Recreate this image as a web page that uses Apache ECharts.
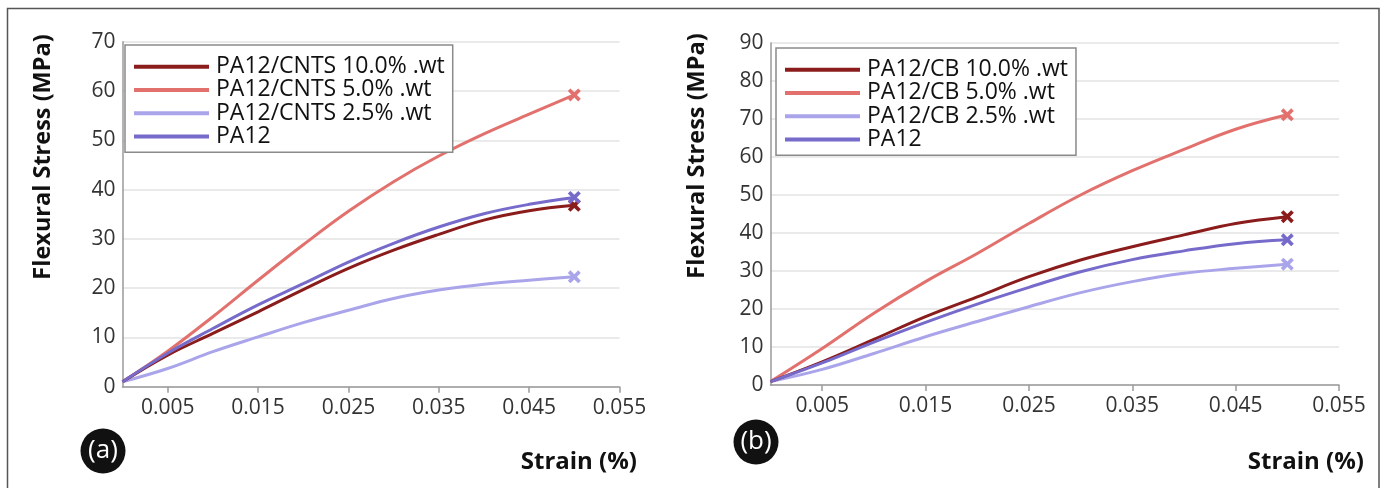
<!DOCTYPE html>
<html>
<head>
<meta charset="utf-8">
<script src="https://cdn.jsdelivr.net/npm/echarts@6/dist/echarts.min.js"></script>
<style>
  html, body { margin: 0; padding: 0; background: #ffffff; }
  #chart { width: 1385px; height: 488px; }
</style>
</head>
<body>
<div id="chart"></div>
<script>
// Strain values (%) shared by every curve
const strain = [0, 0.005, 0.01, 0.015, 0.02, 0.025, 0.03, 0.035, 0.04, 0.045, 0.05];

// (a) PA12 / carbon nanotubes — flexural stress (MPa)
const cnts10 = [1.0, 6.4, 10.8, 15.2, 19.7, 24.0, 27.7, 30.9, 33.8, 35.7, 36.8];
const cnts5  = [1.0, 7.2, 14.2, 21.6, 28.8, 35.6, 41.6, 46.8, 51.3, 55.3, 59.2];
const cnts25 = [1.0, 3.7, 7.1, 10.1, 13.0, 15.5, 17.9, 19.6, 20.8, 21.6, 22.3];
const pa12a  = [1.0, 6.8, 11.8, 16.6, 20.9, 25.3, 29.1, 32.4, 35.1, 37.0, 38.4];

// (b) PA12 / carbon black — flexural stress (MPa)
const cb10  = [0.9, 6.1, 12.0, 18.0, 23.2, 28.5, 32.9, 36.4, 39.5, 42.5, 44.3];
const cb5   = [0.9, 9.6, 18.9, 27.2, 34.6, 42.5, 50.0, 56.4, 62.0, 67.3, 71.1];
const cb25  = [0.9, 4.1, 8.3, 12.7, 16.7, 20.6, 24.3, 27.2, 29.4, 30.7, 31.8];
const pa12b = [0.9, 5.8, 11.3, 16.5, 21.3, 25.7, 29.8, 33.0, 35.3, 37.2, 38.2];

// Axis tick labels
const strainTicks = [0.005, 0.015, 0.025, 0.035, 0.045, 0.055];

const namesA = ['PA12/CNTS 10.0% .wt', 'PA12/CNTS 5.0% .wt', 'PA12/CNTS 2.5% .wt', 'PA12'];
const namesB = ['PA12/CB 10.0% .wt', 'PA12/CB 5.0% .wt', 'PA12/CB 2.5% .wt', 'PA12'];
const colors = ['#8b1c1c', '#e2716d', '#aaa5ea', '#766bca'];

const FONT = '"Open Sans"';
const CROSS = 'path://M0,2 L2,0 L5,3 L8,0 L10,2 L7,5 L10,8 L8,10 L5,7 L2,10 L0,8 L3,5 Z';

function points(ys) {
  return ys.map((y, i) => {
    if (i === ys.length - 1) {
      return { value: [strain[i], y], symbol: CROSS, symbolSize: 13 };
    }
    return { value: [strain[i], y], symbol: 'none' };
  });
}

function makeSeries(name, ys, color, axisIndex, z) {
  return {
    type: 'line',
    name: name,
    xAxisIndex: axisIndex,
    yAxisIndex: axisIndex,
    data: points(ys),
    smooth: 0.4,
    showSymbol: true,
    symbol: 'none',
    color: color,
    lineStyle: { width: 3, color: color },
    itemStyle: { color: color },
    emphasis: { disabled: true },
    z: z
  };
}

function xAxisCfg(gridIndex) {
  return {
    type: 'value',
    gridIndex: gridIndex,
    min: 0,
    max: 0.055,
    axisLine: { lineStyle: { color: '#9a9a9a', width: 1.5 } },
    axisTick: { show: true, customValues: strainTicks, length: 6, lineStyle: { color: '#9a9a9a', width: 1.5 } },
    axisLabel: {
      customValues: strainTicks,
      formatter: v => v.toFixed(3),
      fontFamily: FONT, fontSize: 21, color: '#333', margin: 11
    },
    splitLine: { show: false }
  };
}

function yAxisCfg(gridIndex, max) {
  return {
    type: 'value',
    gridIndex: gridIndex,
    min: 0,
    max: max,
    interval: 10,
    axisLine: { show: true, lineStyle: { color: '#9a9a9a', width: 1.5 } },
    axisTick: { show: false },
    axisLabel: { fontFamily: FONT, fontSize: 21, color: '#333', margin: 7 },
    splitLine: { show: true, lineStyle: { color: '#e3e3e3', width: 1.5 } }
  };
}

function legendCfg(names, left, top) {
  return {
    data: names,
    orient: 'vertical',
    left: left,
    top: top,
    itemWidth: 75,
    itemHeight: 4,
    itemGap: 0,
    icon: 'rect',
    padding: [10, 8, 4, 9],
    backgroundColor: '#ffffff',
    borderColor: '#8a8a8a',
    borderWidth: 1.5,
    borderRadius: 0,
    selectedMode: false,
    textStyle: { fontFamily: FONT, fontSize: 23, color: '#111', lineHeight: 23.3, padding: [0, 0, 0, 2] }
  };
}

function badge(letter, cx, cy) {
  return [
    { type: 'circle', shape: { cx: cx, cy: cy, r: 22.5 }, style: { fill: '#111' } },
    {
      type: 'text', x: cx, y: cy,
      style: { text: '(' + letter + ')', fill: '#fff', font: '26px ' + FONT, align: 'center', verticalAlign: 'middle' }
    }
  ];
}

function yTitle(cx, cy) {
  return {
    type: 'text', x: cx, y: cy, rotation: Math.PI / 2,
    style: { text: 'Flexural Stress (MPa)', fill: '#111', font: 'bold 23.5px ' + FONT, align: 'center', verticalAlign: 'middle' }
  };
}

function xTitle(right, cy) {
  return {
    type: 'text', x: right, y: cy,
    style: { text: 'Strain (%)', fill: '#111', font: 'bold 24px ' + FONT, align: 'right', verticalAlign: 'middle' }
  };
}

const chart = echarts.init(document.getElementById('chart'), null, { renderer: 'canvas' });

chart.setOption({
  animation: false,
  backgroundColor: '#ffffff',
  grid: [
    { left: 122.5, top: 41.7, width: 497, height: 345 },
    { left: 770.5, top: 43, width: 568.5, height: 342 }
  ],
  xAxis: [xAxisCfg(0), xAxisCfg(1)],
  yAxis: [yAxisCfg(0, 70), yAxisCfg(1, 90)],
  legend: [legendCfg(namesA, 125, 45), legendCfg(namesB, 776, 48)],
  series: [
    makeSeries(namesA[0], cnts10, colors[0], 0, 4),
    makeSeries(namesA[1], cnts5, colors[1], 0, 3),
    makeSeries(namesA[2], cnts25, colors[2], 0, 2),
    makeSeries(namesA[3], pa12a, colors[3], 0, 5),
    makeSeries(namesB[0], cb10, colors[0], 1, 4),
    makeSeries(namesB[1], cb5, colors[1], 1, 3),
    makeSeries(namesB[2], cb25, colors[2], 1, 2),
    makeSeries(namesB[3], pa12b, colors[3], 1, 5)
  ],
  graphic: [
    // outer frame of the figure panel
    {
      type: 'polyline', silent: true,
      shape: { points: [[7.5, 488], [7.5, 8.5], [1379, 8.5], [1379, 488]] },
      style: { stroke: '#555', lineWidth: 1.5, fill: null }
    },
    yTitle(43, 157),
    yTitle(697, 156),
    xTitle(637, 462),
    xTitle(1364, 462),
    ...badge('a', 103, 451),
    ...badge('b', 756, 442)
  ]
});
</script>
</body>
</html>
